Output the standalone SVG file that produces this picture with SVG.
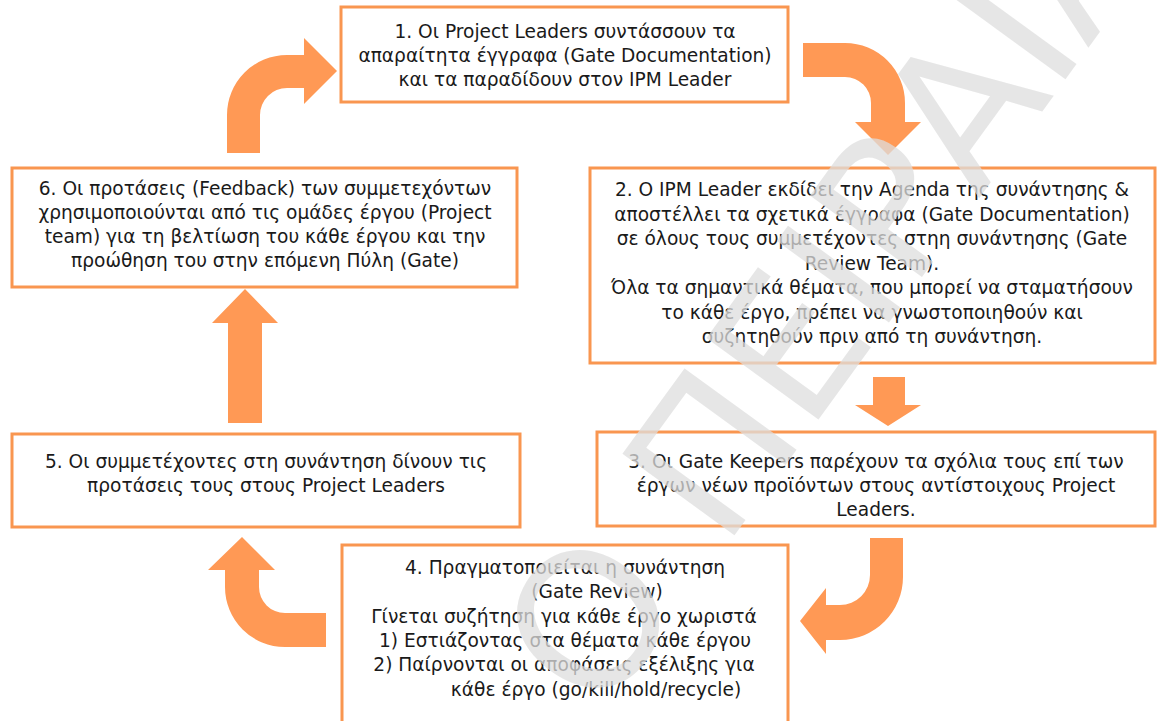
<svg xmlns="http://www.w3.org/2000/svg" width="1158" height="721" viewBox="0 0 1158 721">
<style>
.box{fill:#ffffff;stroke:#F99650;stroke-width:3}
.arr{fill:#FF9955}
.t{font-family:"DejaVu Sans","Liberation Sans",sans-serif;font-size:18.6px;fill:#1a1a1a;text-anchor:middle}
.wm{font-family:"DejaVu Sans","Liberation Sans",sans-serif;font-size:190px;fill:#dddddd;fill-opacity:0.75}
</style>
<rect width="1158" height="721" fill="#ffffff"/>
<g id="connectors">
<path class="arr" d="M227,153 L227,115 A60,60 0 0 1 287,55 L304,55 L304,38 L337,71 L304,104 L304,88 L287,88 A27,27 0 0 0 260,115 L260,153 Z"/>
<path class="arr" d="M803,43 L845,43 A60,60 0 0 1 905,103 L905,122 L921,122 L888,155 L855,122 L871,122 L871,103 A26,26 0 0 0 845,77 L803,77 Z"/>
<path class="arr" d="M873,377 L905,377 L905,405 L921,405 L888,426 L855,405 L873,405 Z"/>
<path class="arr" d="M870,538 L903,538 L903,577 A63,63 0 0 1 840,640 L826,640 L826,654 L800,621 L826,588 L826,605 L840,605 A30,30 0 0 0 870,575 Z"/>
<path class="arr" d="M326,613 L326,647 L285,647 A60,60 0 0 1 225,587 L225,570 L208,570 L242,537 L275,570 L259,570 L259,587 A26,26 0 0 0 285,613 Z"/>
<path class="arr" d="M228,423 L262,423 L262,323 L278,323 L245,289 L212,323 L228,323 Z"/>
</g>
<g id="node1">
<rect class="box" x="341" y="7" width="447" height="95"/>
<text class="t" x="565" y="38">1. Οι Project Leaders συντάσσουν τα</text>
<text class="t" x="565" y="62">απαραίτητα έγγραφα (Gate Documentation)</text>
<text class="t" x="565" y="86">και τα παραδίδουν στον IPM Leader</text>
</g>
<g id="node2">
<rect class="box" x="590" y="168" width="565" height="195"/>
<text class="t" x="872" y="196">2. Ο IPM Leader εκδίδει την Agenda της συνάντησης &amp;</text>
<text class="t" x="872" y="221">αποστέλλει τα σχετικά έγγραφα (Gate Documentation)</text>
<text class="t" x="872" y="245">σε όλους τους συμμετέχοντες στηη συνάντησης (Gate</text>
<text class="t" x="872" y="270">Review Team).</text>
<text class="t" x="872" y="294">Όλα τα σημαντικά θέματα, που μπορεί να σταματήσουν</text>
<text class="t" x="872" y="319">το κάθε έργο, πρέπει να γνωστοποιηθούν και</text>
<text class="t" x="872" y="343">συζητηθούν πριν από τη συνάντηση.</text>
</g>
<g id="node3">
<rect class="box" x="597" y="432" width="558" height="94"/>
<text class="t" x="876" y="468">3. Οι Gate Keepers παρέχουν τα σχόλια τους επί των</text>
<text class="t" x="876" y="492">έργων νέων προϊόντων στους αντίστοιχους Project</text>
<text class="t" x="876" y="516">Leaders.</text>
</g>
<g id="node4">
<rect class="box" x="342" y="545" width="446" height="190"/>
<text class="t" x="565" y="574">4. Πραγματοποιείται η συνάντηση</text>
<text class="t" x="597" y="598">(Gate Review)</text>
<text class="t" x="564" y="623">Γίνεται συζήτηση για κάθε έργο χωριστά</text>
<text class="t" x="565" y="647">1) Εστιάζοντας στα θέματα κάθε έργου</text>
<text class="t" x="564" y="671">2) Παίρνονται οι αποφάσεις εξέλιξης για</text>
<text class="t" x="596" y="696">κάθε έργο (go/kill/hold/recycle)</text>
</g>
<g id="node5">
<rect class="box" x="12" y="434" width="508" height="93"/>
<text class="t" x="266" y="468">5. Οι συμμετέχοντες στη συνάντηση δίνουν τις</text>
<text class="t" x="266" y="492">προτάσεις τους στους Project Leaders</text>
</g>
<g id="node6">
<rect class="box" x="12" y="168" width="505" height="119"/>
<text class="t" x="265" y="195">6. Οι προτάσεις (Feedback) των συμμετεχόντων</text>
<text class="t" x="265" y="219">χρησιμοποιούνται από τις ομάδες έργου (Project</text>
<text class="t" x="265" y="243">team) για τη βελτίωση του κάθε έργου και την</text>
<text class="t" x="265" y="267">προώθηση του στην επόμενη Πύλη (Gate)</text>
</g>
<g id="watermark">
<text class="wm" transform="translate(600,720) rotate(-54)">Ο ΠΕΙΡΑΙΑ</text>
</g>
</svg>
